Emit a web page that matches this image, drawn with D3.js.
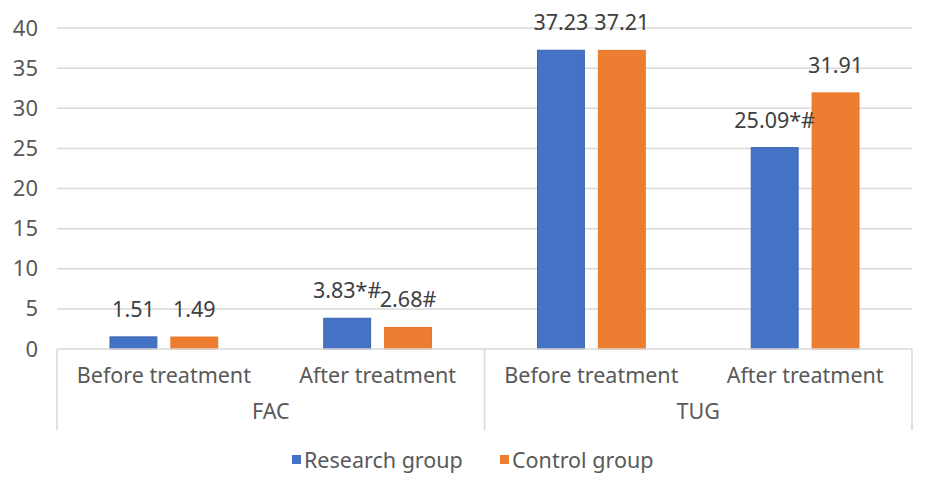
<!DOCTYPE html>
<html>
<head>
<meta charset="utf-8">
<script src="https://cdn.jsdelivr.net/npm/d3@7"></script>
<style>
  body { margin: 0; background: #fff; }
  text { font-family: "Noto Sans", "Liberation Sans", Arial, sans-serif; fill: #595959; }
</style>
</head>
<body>
<div id="chart"></div>
<script>
// data
const groups = ["FAC", "TUG"]
const subcats = ["Before treatment", "After treatment"]
const series = ["Research group", "Control group"]
const research = [1.51, 3.83, 37.23, 25.09]
const control = [1.49, 2.68, 37.21, 31.91]
const researchMarks = ["", "*#", "", "*#"]
const controlMarks = ["", "#", "", ""]
const yTicks = [0, 5, 10, 15, 20, 25, 30, 35, 40]
const colors = ["#4472C4", "#ED7D31"]

const W = 935, H = 486
const margin = { top: 28, right: 23, bottom: 137, left: 57 }
const width = W - margin.left - margin.right
const height = H - margin.top - margin.bottom
const fs = "21.5px"

const svg = d3.select("#chart").append("svg")
    .attr("width", W)
    .attr("height", H)

const g = svg.append("g")
    .attr("transform", "translate(" + margin.left + "," + margin.top + ")")

// one slot per group/subcategory pair
const slots = []
groups.forEach(gr => subcats.forEach(s => slots.push(gr + "|" + s)))

const x0 = d3.scaleBand().domain(slots).range([0, width]).padding(0)
const x1 = d3.scaleBand().domain(series).range([0, x0.bandwidth()])
    .paddingInner(0.23).paddingOuter(0.87)
const y = d3.scaleLinear().domain([0, 40]).range([height, 0])

// gridlines
g.append("g")
    .selectAll("line")
    .data(yTicks.filter(t => t > 0))
    .enter().append("line")
    .attr("x1", 0).attr("x2", width)
    .attr("y1", d => y(d)).attr("y2", d => y(d))
    .attr("stroke", "#d9d9d9").attr("stroke-width", 1.5)

// y axis labels
const yAxis = d3.axisLeft(y).tickValues(yTicks).tickSize(0).tickPadding(19)
g.append("g")
    .call(yAxis)
    .call(a => a.select(".domain").remove())
    .selectAll("text")
    .style("font-size", "22px")
    .style("font-family", "'Noto Sans', sans-serif")
    .attr("fill", "#595959")

// bars
const rows = slots.map((s, i) => ({ slot: s, vals: [research[i], control[i]], marks: [researchMarks[i], controlMarks[i]] }))

const slotG = g.selectAll(".slot")
    .data(rows)
    .enter().append("g")
    .attr("class", "slot")
    .attr("transform", d => "translate(" + x0(d.slot) + ",0)")

const bars = slotG.selectAll(".bar")
    .data(d => series.map((s, j) => ({ s: s, v: d.vals[j], m: d.marks[j], j: j })))
    .enter()

bars.append("rect")
    .attr("class", "bar")
    .attr("x", d => x1(d.s))
    .attr("width", x1.bandwidth())
    .attr("y", d => y(d.v))
    .attr("height", d => height - y(d.v))
    .attr("fill", d => colors[d.j])
    .attr("stroke", d => d.j == 0 ? "#3a63ae" : "#e87528")
    .attr("stroke-width", 1)

bars.append("text")
    .attr("x", d => x1(d.s) + x1.bandwidth() / 2)
    .attr("y", d => y(d.v) - 20)
    .attr("text-anchor", "middle")
    .style("font-size", fs)
    .style("fill", "#404040")
    .text(d => d.v.toFixed(2) + d.m)

// category axis (two levels)
const ax = g.append("g").attr("transform", "translate(0," + height + ")")
ax.append("line")
    .attr("x1", 0).attr("x2", width)
    .attr("stroke", "#d9d9d9").attr("stroke-width", 1.5)

const groupEdges = [0]
groups.forEach((gr, i) => groupEdges.push(x0(gr + "|" + subcats[subcats.length - 1]) + x0.bandwidth()))
ax.selectAll(".gtick")
    .data(groupEdges)
    .enter().append("line")
    .attr("x1", d => d).attr("x2", d => d)
    .attr("y1", 0).attr("y2", 81)
    .attr("stroke", "#d9d9d9").attr("stroke-width", 1.5)

ax.selectAll(".sub")
    .data(slots)
    .enter().append("text")
    .attr("x", d => x0(d) + x0.bandwidth() / 2)
    .attr("y", 34)
    .attr("text-anchor", "middle")
    .style("font-size", fs)
    .text(d => d.split("|")[1])

ax.selectAll(".grp")
    .data(groups)
    .enter().append("text")
    .attr("x", (d, i) => (groupEdges[i] + groupEdges[i + 1]) / 2)
    .attr("y", 70)
    .attr("text-anchor", "middle")
    .style("font-size", fs)
    .text(d => d)

// legend
const legend = svg.append("g").attr("transform", "translate(292,460)")
const legendX = [0, 208]
series.forEach((s, i) => {
    legend.append("rect")
        .attr("x", legendX[i]).attr("y", -5)
        .attr("width", 9).attr("height", 9)
        .attr("fill", colors[i])
    legend.append("text")
        .attr("x", legendX[i] + 12).attr("y", 8)
        .style("font-size", fs)
        .text(s)
})
</script>
</body>
</html>
